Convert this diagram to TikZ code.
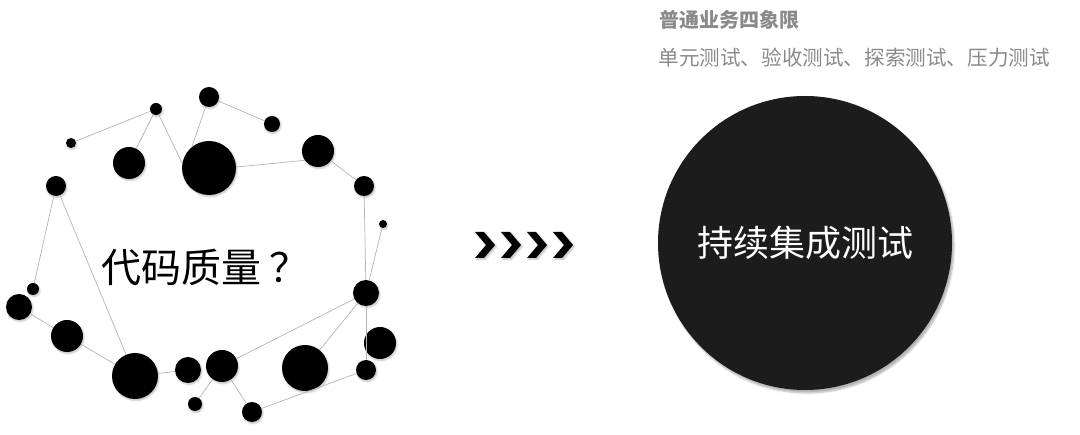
\documentclass[tikz,border=0pt]{standalone}
\usepackage{fontspec}
\usepackage{xcolor}
\usepackage{tikz}
\usetikzlibrary{shadows.blur}
\newfontfamily\cjk{Noto Sans CJK SC}
\definecolor{linkgray}{HTML}{B4B4B4}
\definecolor{textgray}{HTML}{8A8A8A}
\definecolor{discblack}{HTML}{1C1C1C}

\begin{document}
\begin{tikzpicture}[x=1pt,y=-1pt,
    dot/.style={circle, fill=black, inner sep=0pt, minimum size=#1,
        blur shadow={shadow xshift=1pt, shadow yshift=-1.5pt, shadow opacity=25, shadow blur steps=4}},
    link/.style={draw=linkgray, line width=0.7pt},
    chevron/.style={fill=black, blur shadow={shadow xshift=1.5pt, shadow yshift=-1.5pt, shadow opacity=25}}]
    \useasboundingbox (0,0) rectangle (1080,435);

    \node[dot=20] (d1)  at (209,97)  {};
    \node[dot=12] (d2)  at (156,109) {};
    \node[dot=16] (d3)  at (272,124) {};
    \node[dot=10] (d4)  at (71,143)  {};
    \node[dot=32] (d5)  at (129,163) {};
    \node[dot=54] (d6)  at (209,168) {};
    \node[dot=32] (d7)  at (318,151) {};
    \node[dot=20] (d8)  at (56,186)  {};
    \node[dot=20] (d9)  at (364,186) {};
    \node[dot=8]  (d10) at (383,224) {};
    \node[dot=12] (d11) at (33,289)  {};
    \node[dot=26] (d12) at (19,307)  {};
    \node[dot=26] (d13) at (366,293) {};
    \node[dot=32] (d14) at (67,336)  {};
    \node[dot=32] (d15) at (380,343) {};
    \node[dot=46] (d16) at (135,376) {};
    \node[dot=26] (d17) at (188,370) {};
    \node[dot=32] (d18) at (222,366) {};
    \node[dot=46] (d19) at (305,368) {};
    \node[dot=20] (d20) at (366,370) {};
    \node[dot=14] (d21) at (195,404) {};
    \node[dot=20] (d22) at (252,412) {};

    \draw[link] (d4) -- (d2);
    \draw[link] (d2) -- (d5);
    \draw[link] (d2) -- (d6.170);
    \draw[link] (d1) -- (d6.129);
    \draw[link] (d1) -- (d3);
    \draw[link] (d6.2) -- (d7.215);
    \draw[link] (d7) -- (d9);
    \draw[link] (d9) -- (d13);
    \draw[link] (d10) -- (d13);
    \draw[link] (d8) -- (d11);
    \draw[link] (d8) -- (d16);
    \draw[link] (d12) -- (d14);
    \draw[link] (d14) -- (d16);
    \draw[link] (d16) -- (d17);
    \draw[link] (d18) -- (d13);
    \draw[link] (d21) -- (d18);
    \draw[link] (d18) -- (d22);
    \draw[link] (d22) -- (d20);
    \draw[link] (d19) -- (d13);
    \draw[link] (d13) -- (d20);

    \node[font=\cjk\fontsize{40}{46}\selectfont] (quality) at (205,267) {代码质量\hspace{8pt}？};

    \foreach \x in {475,501,527,553}
        \fill[chevron] (\x,232) -- (\x+9,232) -- (\x+20,245) -- (\x+9,258) -- (\x,258) -- (\x+11,245) -- cycle;

    \node[circle, fill=discblack, minimum size=294pt, inner sep=0pt,
        blur shadow={shadow xshift=2pt, shadow yshift=-3pt, shadow opacity=30, shadow blur steps=6},
        text=white, font=\cjk\fontsize{36}{42}\selectfont] (ci) at (805,243) {持续集成测试};

    \node[anchor=west, text=textgray, font=\cjk\bfseries\fontsize{20}{24}\selectfont] (title) at (656,20) {普通业务四象限};
    \node[anchor=west, text=textgray, font=\cjk\fontsize{20.6}{24}\selectfont] (kinds) at (655,58) {单元测试、验收测试、探索测试、压力测试};
\end{tikzpicture}
\end{document}
